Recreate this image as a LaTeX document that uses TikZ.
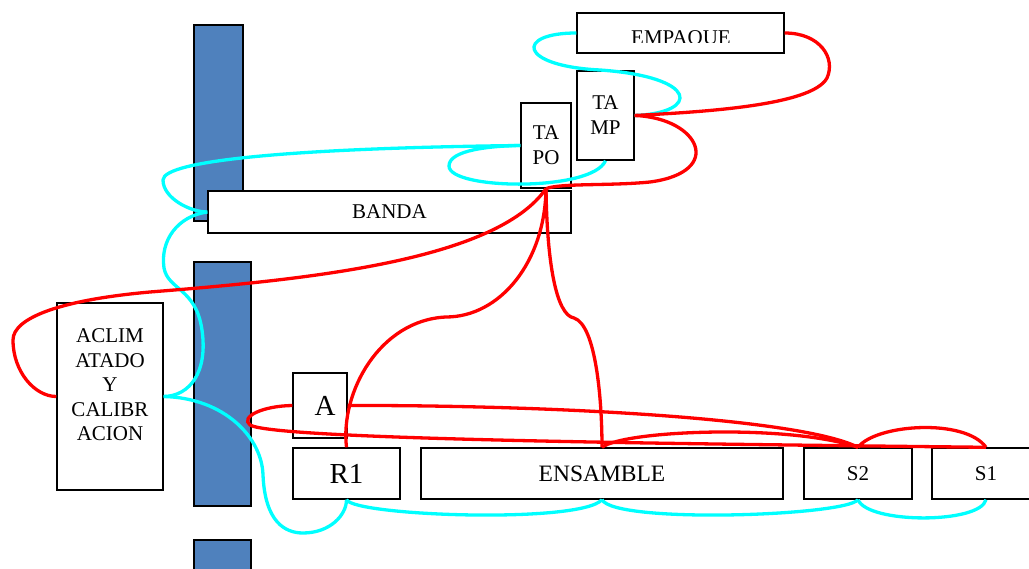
\documentclass[tikz,border=0pt]{standalone}
\usepackage{fontspec}
\setmainfont{Liberation Serif}
\definecolor{barblue}{RGB}{79,129,189}
\definecolor{cyanline}{RGB}{0,255,255}
\definecolor{redline}{RGB}{255,0,0}
\begin{document}
\begin{tikzpicture}[x=1pt,y=-1pt,
  bar/.style={draw=black,line width=1.4pt,fill=barblue},
  box/.style={draw=black,line width=1.4pt,fill=white,inner sep=0pt,font=\fontsize{21}{25}\selectfont,align=center},
  bigbox/.style={box,font=\fontsize{29}{33}\selectfont},
  cy/.style={draw=cyanline,line width=3.3pt},
  rd/.style={draw=redline,line width=3.3pt}]
\useasboundingbox (0,0) rectangle (1029,569);
\clip (0,0) rectangle (1029,569);
% blue bars
\path[bar] (194,25) rectangle (243,221);
\path[bar] (194,262) rectangle (251,506);
\path[bar] (194,540) rectangle (251,600);
% boxes
\node[box,minimum width=207,minimum height=40] (empaque) at (680.5,33) {};
\begin{scope}
\clip (579,15) rectangle (782,43);
\node[font=\fontsize{21}{25}\selectfont,anchor=base,inner sep=0pt] (empaquetext) at (681,45) {EMPAQUE};
\end{scope}
\node[box,minimum width=57,minimum height=89] (tamp) at (605.5,115.5) {TA\\MP};
\node[box,minimum width=50,minimum height=85] (tapo) at (546,145.5) {TA\\PO};
\node[box,minimum width=363,minimum height=42] (banda) at (389.5,212) {BANDA};
\node[box,minimum width=106,minimum height=187] (aclim) at (110,396.5) {};
\node[font=\fontsize{21}{24.5}\selectfont,align=center,inner sep=0pt] (aclimtext) at (110,385) {ACLIM\\ATADO\\Y\\CALIBR\\ACION};
\node[bigbox,minimum width=54,minimum height=65] (a) at (320,405.5) {\hspace*{10pt}A};
\node[bigbox,minimum width=107,minimum height=51] (r1) at (346.5,473.5) {R1};
\node[box,minimum width=362,minimum height=51,font=\fontsize{23.5}{27}\selectfont] (ensamble) at (602,473.5) {ENSAMBLE};
\node[box,minimum width=108,minimum height=51] (s2) at (858,473.5) {S2};
\node[box,minimum width=108,minimum height=51] (s1) at (986,473.5) {S1};
% cyan connectors
\draw[cy] (empaque.west) .. controls (515,33) and (518,66) .. (600,70)
  .. controls (700,77) and (700,113) .. (tamp.east);
\draw[cy] (tapo.west) .. controls (300,148) and (163,160) .. (163,180)
  .. controls (163,198) and (190,212) .. (banda.west);
\draw[cy] (tamp.south) .. controls (592,192) and (449,190) .. (449,166)
  .. controls (449,150) and (490,146) .. (tapo.west);
\draw[cy] (banda.west) .. controls (178,216) and (160,240) .. (164,268)
  .. controls (168,290) and (196,288) .. (202,330)
  .. controls (208,372) and (190,396) .. (aclim.east);
\draw[cy] (aclim.east) .. controls (225,398) and (262,438) .. (263,475)
  .. controls (265,522) and (285,533) .. (303,533)
  .. controls (330,533) and (346.5,515) .. (r1.south);
\draw[cy] (r1.south) .. controls (355,516) and (580,524) .. (ensamble.south);
\draw[cy] (ensamble.south) .. controls (615,524) and (845,516) .. (s2.south);
\draw[cy] (s2.south) .. controls (868,524) and (980,524) .. (s1.south);
% red connectors
\draw[rd] (empaque.east) .. controls (820,33) and (836,58) .. (827,78)
  .. controls (812,106) and (700,112) .. (tamp.east);
\draw[rd] (tamp.east) .. controls (700,118) and (725,172) .. (650,182)
  .. controls (610,186) and (560,183) .. (tapo.south);
\draw[rd] (tapo.south) .. controls (495,262) and (300,280) .. (150,292)
  .. controls (60,300) and (13,318) .. (13,340)
  .. controls (13,372) and (35,396.5) .. (aclim.west);
\draw[rd] (tapo.south) .. controls (545,262) and (500,317) .. (446,317)
  .. controls (380,320) and (340,392) .. (r1.north);
\draw[rd] (tapo.south) .. controls (547,262) and (556,315) .. (574,318)
  .. controls (596,325) and (602,400) .. (ensamble.north);
\draw[rd] (a.east) .. controls (550,405) and (800,418) .. (s2.north);
\draw[rd] (a.west) .. controls (262,406) and (240,417) .. (250,425)
  .. controls (275,440) and (700,444) .. (s1.north);
\draw[rd] (ensamble.north) .. controls (625,430) and (790,424) .. (s2.north);
\draw[rd] (s2.north) .. controls (876,424) and (965,418) .. (s1.north);
\end{tikzpicture}
\end{document}
